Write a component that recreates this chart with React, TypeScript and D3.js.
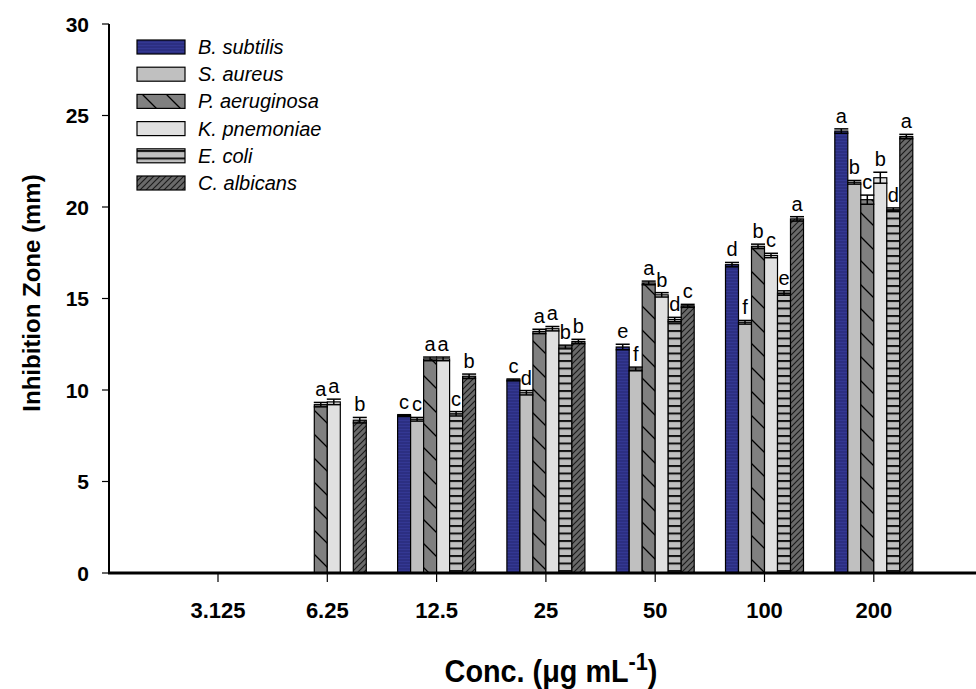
import React from "react";
import * as d3 from "d3";

const categories = ["3.125", "6.25", "12.5", "25", "50", "100", "200"];
const seriesNames = ["B. subtilis", "S. aureus", "P. aeruginosa", "K. pnemoniae", "E. coli", "C. albicans"];

const bSubtilis = [null, null, 8.6, 10.55, 12.35, 16.85, 24.15];
const sAureus = [null, null, 8.4, 9.85, 11.15, 13.7, 21.35];
const pAeruginosa = [null, 9.2, 11.7, 13.2, 15.85, 17.85, 20.4];
const kPnemoniae = [null, 9.35, 11.7, 13.35, 15.2, 17.35, 21.6];
const eColi = [null, null, 8.7, 12.35, 13.85, 15.3, 19.85];
const cAlbicans = [null, 8.35, 10.75, 12.65, 14.6, 19.35, 23.85];

const bSubtilisErr = [0, 0, 0.05, 0.05, 0.15, 0.12, 0.12];
const sAureusErr = [0, 0, 0.1, 0.12, 0.1, 0.1, 0.1];
const pAeruginosaErr = [0, 0.12, 0.1, 0.12, 0.1, 0.12, 0.25];
const kPnemoniaeErr = [0, 0.15, 0.1, 0.12, 0.12, 0.12, 0.3];
const eColiErr = [0, 0, 0.12, 0.1, 0.12, 0.12, 0.1];
const cAlbicansErr = [0, 0.15, 0.12, 0.12, 0.08, 0.12, 0.12];

const bSubtilisLbl = ["", "", "c", "c", "e", "d", "a"];
const sAureusLbl = ["", "", "c", "d", "f", "f", "b"];
const pAeruginosaLbl = ["", "a", "a", "a", "a", "b", "c"];
const kPnemoniaeLbl = ["", "a", "a", "a", "b", "c", "b"];
const eColiLbl = ["", "", "c", "b", "d", "e", "d"];
const cAlbicansLbl = ["", "b", "b", "b", "c", "a", "a"];

const yTicks = [0, 5, 10, 15, 20, 25, 30];

const values = [bSubtilis, sAureus, pAeruginosa, kPnemoniae, eColi, cAlbicans];
const errors = [bSubtilisErr, sAureusErr, pAeruginosaErr, kPnemoniaeErr, eColiErr, cAlbicansErr];
const letters = [bSubtilisLbl, sAureusLbl, pAeruginosaLbl, kPnemoniaeLbl, eColiLbl, cAlbicansLbl];
const fills = ["url(#pBlue)", "#c0c0c0", "url(#pBack)", "#e0e0e0", "url(#pHoriz)", "url(#pFwd)"];

const FONT = "Arial, 'Liberation Sans', Helvetica, sans-serif";

export default function App() {
  const W = 976, H = 689;
  const y = d3.scaleLinear().domain([0, 30]).range([573, 24]);
  const x = d3.scaleBand<string>().domain(categories).range([163.35, 928.45]).padding(0);
  const inner = d3.scaleBand<string>().domain(seriesNames).range([-39, 39]).padding(0);
  const bw = inner.bandwidth();
  const xAxisLeft = 109;

  const bars: React.ReactNode[] = [];
  const errs: React.ReactNode[] = [];
  const lbls: React.ReactNode[] = [];
  categories.forEach((c, ci) => {
    const cx = (x(c) as number) + x.bandwidth() / 2;
    seriesNames.forEach((s, si) => {
      const v = values[si][ci];
      if (v == null) return;
      const bx = cx + (inner(s) as number);
      const top = y(v);
      bars.push(
        <rect key={`b${ci}-${si}`} x={bx} y={top} width={bw} height={y(0) - top}
          fill={fills[si]} stroke="#000" strokeWidth={1.2} />
      );
      const e = errors[si][ci];
      const mx = bx + bw / 2;
      const yHi = y(v + e), yLo = y(v - e);
      errs.push(
        <g key={`e${ci}-${si}`} stroke="#000" strokeWidth={1.5}>
          <line x1={mx} x2={mx} y1={yHi} y2={yLo} />
          <line x1={mx - 7} x2={mx + 7} y1={yHi} y2={yHi} />
          <line x1={mx - 7} x2={mx + 7} y1={yLo} y2={yLo} />
        </g>
      );
      const l = letters[si][ci];
      if (l) {
        lbls.push(
          <text key={`l${ci}-${si}`} x={mx} y={yHi - 6} textAnchor="middle"
            fontFamily={FONT} fontSize={20} fill="#000">{l}</text>
        );
      }
    });
  });

  return (
    <svg width={W} height={H} style={{ position: "absolute", left: 0, top: 0, background: "#fff" }}>
      <defs>
        <pattern id="pBlue" patternUnits="userSpaceOnUse" width={3} height={3}>
          <rect width={3} height={3} fill="#2c2f82" />
          <rect width={3} height={1} fill="#343893" />
        </pattern>
        <pattern id="pBack" patternUnits="userSpaceOnUse" width={24} height={24}>
          <rect width={24} height={24} fill="#808080" />
          <path d="M-6,-6 L30,30 M-6,18 L6,30 M18,-6 L30,6" stroke="#000" strokeWidth={1.3} />
        </pattern>
        <pattern id="pHoriz" patternUnits="userSpaceOnUse" width={8} height={7.5}>
          <rect width={8} height={7.5} fill="#c0c0c0" />
          <rect y={0} width={8} height={2} fill="#111" />
        </pattern>
        <pattern id="pFwd" patternUnits="userSpaceOnUse" width={6} height={6}>
          <rect width={6} height={6} fill="#6a6a6a" />
          <path d="M-1.5,1.5 L1.5,-1.5 M0,6 L6,0 M4.5,7.5 L7.5,4.5" stroke="#1a1a1a" strokeWidth={1.2} />
        </pattern>
      </defs>

      {bars}
      {errs}
      {lbls}

      {/* Y axis */}
      <line x1={xAxisLeft} x2={xAxisLeft} y1={y(30)} y2={y(0)} stroke="#000" strokeWidth={2} />
      {yTicks.map((t) => (
        <g key={`yt${t}`}>
          <line x1={102} x2={xAxisLeft} y1={y(t)} y2={y(t)} stroke="#000" strokeWidth={1.2} />
          <text x={89} y={y(t) + 7.5} textAnchor="end" fontFamily={FONT} fontWeight="bold" fontSize={21} fill="#000">{t}</text>
        </g>
      ))}
      {/* X axis */}
      <line x1={xAxisLeft - 1} x2={W} y1={y(0)} y2={y(0)} stroke="#000" strokeWidth={3} />
      {categories.map((c) => {
        const cx = (x(c) as number) + x.bandwidth() / 2;
        return (
          <g key={`xt${c}`}>
            <line x1={cx} x2={cx} y1={y(0)} y2={y(0) + 9} stroke="#000" strokeWidth={1.2} />
            <text x={cx} y={618} textAnchor="middle" fontFamily={FONT} fontWeight="bold" fontSize={22} fill="#000">{c}</text>
          </g>
        );
      })}

      {/* Axis titles */}
      <g transform="translate(551,682) scale(0.9,1)">
        <text x={0} y={0} textAnchor="middle" fontFamily={FONT} fontWeight="bold" fontSize={32} fill="#000">
          Conc. (μg mL<tspan dy={-12} fontSize={24}>-1</tspan><tspan dy={12}>)</tspan>
        </text>
      </g>
      <text transform={`translate(40,${293}) rotate(-90)`} textAnchor="middle" fontFamily={FONT} fontWeight="bold" fontSize={24} fill="#000">
        Inhibition Zone (mm)
      </text>

      {/* Legend */}
      {seriesNames.map((s, i) => {
        const cy = 47 + i * 27.2;
        return (
          <g key={`lg${i}`}>
            <rect x={137} y={cy - 7} width={48} height={14} fill={fills[i]} stroke="#000" strokeWidth={1.2} />
            <text x={198} y={cy + 7} fontFamily={FONT} fontStyle="italic" fontSize={20} fill="#000">{s}</text>
          </g>
        );
      })}
    </svg>
  );
}
